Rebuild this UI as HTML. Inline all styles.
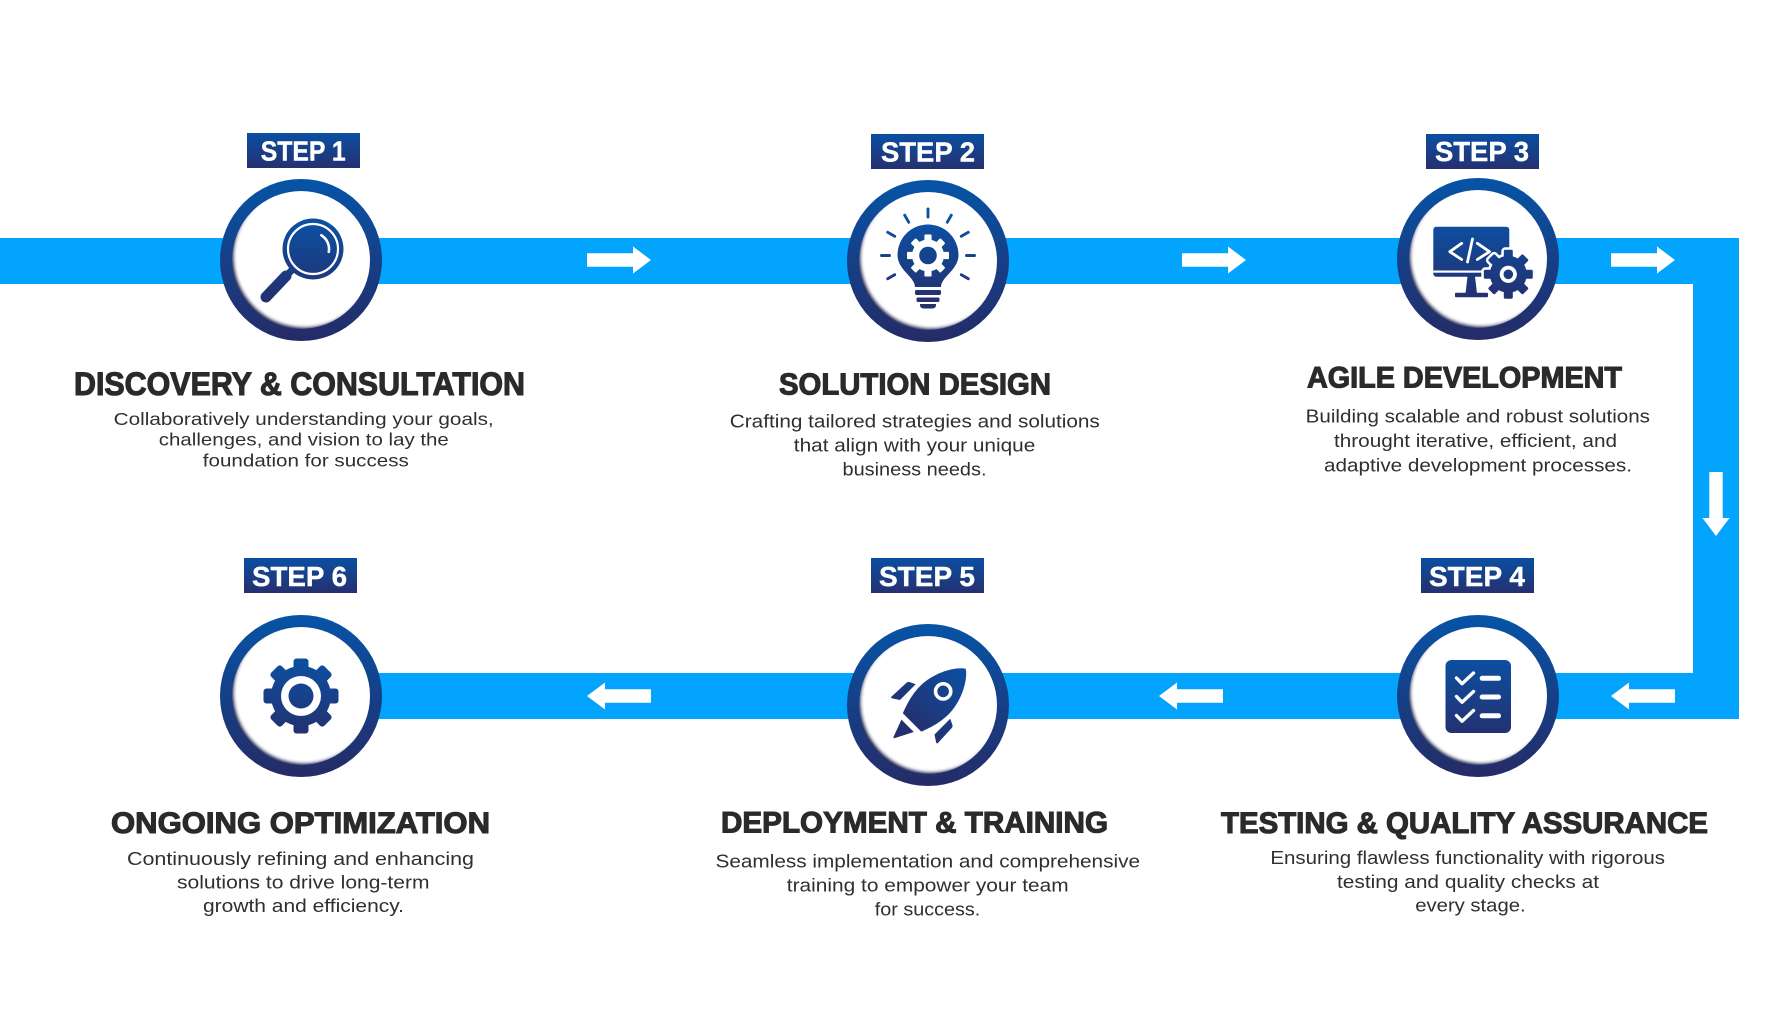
<!DOCTYPE html>
<html><head><meta charset="utf-8"><style>
html,body{margin:0;padding:0;background:#fff;}
svg{display:block;}
.h{font-family:"Liberation Sans",sans-serif;font-weight:bold;fill:#2a2a2a;stroke:#2a2a2a;stroke-width:1.1px;}
.b{font-family:"Liberation Sans",sans-serif;fill:#2f2f2f;font-size:18px;}
.s{font-family:"Liberation Sans",sans-serif;font-weight:bold;fill:#fff;font-size:28px;stroke:#fff;stroke-width:0.4px;}
</style></head><body>
<svg width="1777" height="1036" viewBox="0 0 1777 1036" xmlns="http://www.w3.org/2000/svg" xmlns:xlink="http://www.w3.org/1999/xlink">
<defs>
<linearGradient id="ring" gradientUnits="userSpaceOnUse" x1="0" y1="-81" x2="0" y2="81"><stop offset="0" stop-color="#0654a7"/><stop offset="1" stop-color="#252b67"/></linearGradient>
<linearGradient id="ig" gradientUnits="userSpaceOnUse" x1="0" y1="-42" x2="0" y2="42"><stop offset="0" stop-color="#0a52a5"/><stop offset="1" stop-color="#252f6e"/></linearGradient>
<linearGradient id="sg" x1="0" y1="0" x2="0" y2="1"><stop offset="0" stop-color="#0a4fa1"/><stop offset="1" stop-color="#253070"/></linearGradient>
<clipPath id="inner" clipPathUnits="userSpaceOnUse"><circle r="69"/></clipPath>
<filter id="bl" x="-20%" y="-20%" width="140%" height="140%"><feGaussianBlur stdDeviation="1.8"/></filter>
<g id="badge">
 <circle r="81" fill="url(#ring)"/>
 <g clip-path="url(#inner)">
  <rect x="-70" y="-70" width="140" height="140" fill="#151c48"/>
  <circle cx="3.2" cy="-3.2" r="71" fill="#fff" filter="url(#bl)"/>
 </g>
</g>
<path id="arr" d="M0,-6.7H46V-13.5L64,0L46,13.5V6.7H0Z" fill="#fff"/>
<g id="gear6">
 <circle r="30"/>
 <rect x="-7.5" y="-37.5" width="15" height="14" rx="3"/>
 <rect x="-7.5" y="-37.5" width="15" height="14" rx="3" transform="rotate(45)"/>
 <rect x="-7.5" y="-37.5" width="15" height="14" rx="3" transform="rotate(90)"/>
 <rect x="-7.5" y="-37.5" width="15" height="14" rx="3" transform="rotate(135)"/>
 <rect x="-7.5" y="-37.5" width="15" height="14" rx="3" transform="rotate(180)"/>
 <rect x="-7.5" y="-37.5" width="15" height="14" rx="3" transform="rotate(225)"/>
 <rect x="-7.5" y="-37.5" width="15" height="14" rx="3" transform="rotate(270)"/>
 <rect x="-7.5" y="-37.5" width="15" height="14" rx="3" transform="rotate(315)"/>
</g>
<g id="gear3">
 <circle r="18.5"/>
 <rect x="-4.5" y="-24.5" width="9" height="9" rx="1.5"/>
 <rect x="-4.5" y="-24.5" width="9" height="9" rx="1.5" transform="rotate(45)"/>
 <rect x="-4.5" y="-24.5" width="9" height="9" rx="1.5" transform="rotate(90)"/>
 <rect x="-4.5" y="-24.5" width="9" height="9" rx="1.5" transform="rotate(135)"/>
 <rect x="-4.5" y="-24.5" width="9" height="9" rx="1.5" transform="rotate(180)"/>
 <rect x="-4.5" y="-24.5" width="9" height="9" rx="1.5" transform="rotate(225)"/>
 <rect x="-4.5" y="-24.5" width="9" height="9" rx="1.5" transform="rotate(270)"/>
 <rect x="-4.5" y="-24.5" width="9" height="9" rx="1.5" transform="rotate(315)"/>
</g>
<g id="gear2">
 <circle r="16"/>
 <rect x="-3.6" y="-21" width="7.2" height="7" rx="1"/>
 <rect x="-3.6" y="-21" width="7.2" height="7" rx="1" transform="rotate(45)"/>
 <rect x="-3.6" y="-21" width="7.2" height="7" rx="1" transform="rotate(90)"/>
 <rect x="-3.6" y="-21" width="7.2" height="7" rx="1" transform="rotate(135)"/>
 <rect x="-3.6" y="-21" width="7.2" height="7" rx="1" transform="rotate(180)"/>
 <rect x="-3.6" y="-21" width="7.2" height="7" rx="1" transform="rotate(225)"/>
 <rect x="-3.6" y="-21" width="7.2" height="7" rx="1" transform="rotate(270)"/>
 <rect x="-3.6" y="-21" width="7.2" height="7" rx="1" transform="rotate(315)"/>
</g>
<mask id="m6" maskUnits="userSpaceOnUse" x="-45" y="-45" width="90" height="90"><use xlink:href="#gear6" fill="#fff"/></mask>
<mask id="m3" maskUnits="userSpaceOnUse" x="-60" y="-60" width="120" height="120"><use xlink:href="#gear3" fill="#fff" transform="translate(30.3,15.3)"/></mask>
</defs>

<!-- connector bands -->
<rect x="0" y="238" width="1739" height="46" fill="#02a4fd"/>
<rect x="1693" y="238" width="46" height="481" fill="#02a4fd"/>
<rect x="301" y="673" width="1438" height="46" fill="#02a4fd"/>

<!-- arrows -->
<use xlink:href="#arr" transform="translate(587,260)"/>
<use xlink:href="#arr" transform="translate(1182,260)"/>
<use xlink:href="#arr" transform="translate(1611,260)"/>
<use xlink:href="#arr" transform="translate(1716,472) rotate(90)"/>
<use xlink:href="#arr" transform="translate(1675,696) scale(-1,1)"/>
<use xlink:href="#arr" transform="translate(1223,696) scale(-1,1)"/>
<use xlink:href="#arr" transform="translate(651,696) scale(-1,1)"/>

<!-- badges -->
<use xlink:href="#badge" transform="translate(301,260)"/>
<use xlink:href="#badge" transform="translate(928,261)"/>
<use xlink:href="#badge" transform="translate(1478,259)"/>
<use xlink:href="#badge" transform="translate(1478,696)"/>
<use xlink:href="#badge" transform="translate(928,705)"/>
<use xlink:href="#badge" transform="translate(301,696)"/>

<!-- icon 1: magnifier -->
<g transform="translate(301,260)">
 <circle cx="12" cy="-11" r="30.5" fill="url(#ig)"/>
 <circle cx="12" cy="-11" r="25" fill="none" stroke="#fff" stroke-width="2.2"/>
 <path d="M20.3,-24.7 A16 16 0 0 1 27.8,-8.2" fill="none" stroke="#fff" stroke-width="2.6" stroke-linecap="round"/>
 <line x1="-7" y1="8" x2="-15" y2="16" stroke="url(#ig)" stroke-width="7"/>
 <line x1="-15" y1="16" x2="-35" y2="37" stroke="url(#ig)" stroke-width="11" stroke-linecap="round"/>
</g>

<!-- icon 2: bulb -->
<g transform="translate(928,261)">
 <g stroke="url(#ig)" stroke-width="2.9" stroke-linecap="round">
  <line x1="0" y1="-44" x2="0" y2="-52"/>
  <line x1="19.3" y1="-38.8" x2="23.3" y2="-45.8"/>
  <line x1="-19.3" y1="-38.8" x2="-23.3" y2="-45.8"/>
  <line x1="33.3" y1="-24.7" x2="40.3" y2="-28.7"/>
  <line x1="-33.3" y1="-24.7" x2="-40.3" y2="-28.7"/>
  <line x1="38.5" y1="-5.5" x2="46.5" y2="-5.5"/>
  <line x1="-38.5" y1="-5.5" x2="-46.5" y2="-5.5"/>
  <line x1="33.3" y1="13.7" x2="40.3" y2="17.7"/>
  <line x1="-33.3" y1="13.7" x2="-40.3" y2="17.7"/>
 </g>
 <path d="M-13,26 C-13,16 -30.5,9 -30.5,-6 A30.5 30.5 0 1 1 30.5,-6 C30.5,9 13,16 13,26 Z" fill="url(#ig)"/>
 <rect x="-13" y="29" width="26" height="5" rx="1.5" fill="url(#ig)"/>
 <rect x="-11.5" y="36.5" width="23" height="4.5" rx="1.5" fill="url(#ig)"/>
 <path d="M-8,43 H8 V44 Q8,47.5 4,47.5 H-4 Q-8,47.5 -8,44 Z" fill="url(#ig)"/>
 <use xlink:href="#gear2" fill="#fff" transform="translate(0,-5.5)"/>
 <circle cx="0" cy="-5.5" r="8.8" fill="url(#ig)"/>
</g>

<!-- icon 3: monitor + gear -->
<g transform="translate(1478,259)">
 <rect x="-44.7" y="-32.3" width="76" height="50" rx="3" fill="url(#ig)"/>
 <rect x="-44.7" y="11.5" width="76" height="2.2" fill="#fff"/>
 <path d="M-10.5,17.5 L-3,17.5 L-1,34.5 L-12.5,34.5 Z" fill="url(#ig)"/>
 <rect x="-23" y="33.8" width="33" height="4.5" rx="1" fill="url(#ig)"/>
 <g fill="none" stroke="#fff" stroke-width="2.8" stroke-linecap="round" stroke-linejoin="round">
  <polyline points="-16.3,-15.7 -28.2,-7.3 -16.3,0.5"/>
  <line x1="-5.5" y1="-20" x2="-10.5" y2="3"/>
  <polyline points="-0.7,-15.7 11.5,-7.3 -0.7,0.5"/>
 </g>
 <use xlink:href="#gear3" fill="#fff" stroke="#fff" stroke-width="5" stroke-linejoin="round" transform="translate(30.3,15.3)"/>
 <rect x="-60" y="-60" width="120" height="120" fill="url(#ig)" mask="url(#m3)"/>
 <circle cx="30.3" cy="15.3" r="6.7" fill="none" stroke="#fff" stroke-width="3.8"/>
</g>

<!-- icon 4: checklist -->
<g transform="translate(1478,696)">
 <rect x="-32.5" y="-36" width="65.5" height="73" rx="6" fill="url(#ig)"/>
 <g fill="none" stroke="#fff" stroke-width="3.4" stroke-linecap="round" stroke-linejoin="round">
  <polyline points="-21.5,-18 -16,-12.3 -4.5,-23"/>
  <polyline points="-21.5,0.5 -16,6.2 -4.5,-4.5"/>
  <polyline points="-21.5,19.5 -16,25.2 -4.5,14.5"/>
 </g>
 <g stroke="#fff" stroke-width="5" stroke-linecap="round">
  <line x1="4.2" y1="-17.7" x2="20.5" y2="-17.7"/>
  <line x1="4.2" y1="1" x2="20.5" y2="1"/>
  <line x1="4.2" y1="19.8" x2="20.5" y2="19.8"/>
 </g>
</g>

<!-- icon 5: rocket -->
<g transform="translate(928,705)">
 <g transform="translate(10.9,-9.4) rotate(45)" fill="url(#ig)">
  <path d="M0,-38 C9,-32 19,-14 20,4 C20.5,18 16,30 13,38 L-13,38 C-16,30 -20.5,18 -20,4 C-19,-14 -9,-32 0,-38Z"/>
  <path d="M-24.4,8.4 L-30,11 Q-32,12 -32,14 L-32.8,34 Q-32.8,36 -31,35 L-24.4,30.6 Z"/>
  <path d="M24.4,8.4 L30,11 Q32,12 32,14 L32.8,34 Q32.8,36 31,35 L24.4,30.6 Z"/>
  <path d="M-9.5,43.5 L8,43.5 L-1,61 Q-2,63 -3,61 Z"/>
  <circle cx="0" cy="-6" r="7.6" fill="none" stroke="#fff" stroke-width="3.6"/>
 </g>
</g>

<!-- icon 6: gear -->
<g transform="translate(301,696)">
 <rect x="-45" y="-45" width="90" height="90" fill="url(#ig)" mask="url(#m6)"/>
 <circle r="20" fill="#fff"/>
 <circle r="12.5" fill="url(#ig)"/>
</g>

<!-- step labels -->
<rect x="247" y="133" width="113" height="35" fill="url(#sg)"/>
<text class="s" x="260.7" y="160.7" textLength="85" lengthAdjust="spacingAndGlyphs">STEP 1</text>
<rect x="871" y="134" width="113" height="35" fill="url(#sg)"/>
<text class="s" x="881" y="161.3" textLength="94" lengthAdjust="spacingAndGlyphs">STEP 2</text>
<rect x="1426" y="134" width="113" height="35" fill="url(#sg)"/>
<text class="s" x="1435" y="161" textLength="94" lengthAdjust="spacingAndGlyphs">STEP 3</text>
<rect x="1421" y="558" width="113" height="35" fill="url(#sg)"/>
<text class="s" x="1429" y="586" textLength="96" lengthAdjust="spacingAndGlyphs">STEP 4</text>
<rect x="871" y="558" width="113" height="35" fill="url(#sg)"/>
<text class="s" x="879" y="586" textLength="96" lengthAdjust="spacingAndGlyphs">STEP 5</text>
<rect x="244" y="558" width="113" height="35" fill="url(#sg)"/>
<text class="s" x="252" y="586" textLength="95" lengthAdjust="spacingAndGlyphs">STEP 6</text>

<!-- headings -->
<text class="h" x="74" y="395" font-size="32" textLength="451" lengthAdjust="spacingAndGlyphs">DISCOVERY &amp; CONSULTATION</text>
<text class="h" x="779" y="394.5" font-size="31" textLength="272" lengthAdjust="spacingAndGlyphs">SOLUTION DESIGN</text>
<text class="h" x="1307" y="387.5" font-size="30" textLength="315" lengthAdjust="spacingAndGlyphs">AGILE DEVELOPMENT</text>
<text class="h" x="1221" y="833" font-size="30" textLength="487" lengthAdjust="spacingAndGlyphs">TESTING &amp; QUALITY ASSURANCE</text>
<text class="h" x="721" y="832.5" font-size="30" textLength="387" lengthAdjust="spacingAndGlyphs">DEPLOYMENT &amp; TRAINING</text>
<text class="h" x="111" y="833" font-size="30" textLength="379" lengthAdjust="spacingAndGlyphs">ONGOING OPTIMIZATION</text>

<!-- body text -->
<g class="b">
<text x="113.7" y="425" font-size="17.5" textLength="380" lengthAdjust="spacingAndGlyphs">Collaboratively understanding your goals,</text>
<text x="158.8" y="445.7" font-size="17.5" textLength="290" lengthAdjust="spacingAndGlyphs">challenges, and vision to lay the</text>
<text x="202.8" y="466.5" font-size="17.5" textLength="206" lengthAdjust="spacingAndGlyphs">foundation for success</text>

<text x="729.8" y="427.5" textLength="370" lengthAdjust="spacingAndGlyphs">Crafting tailored strategies and solutions</text>
<text x="793.8" y="451.5" textLength="241.5" lengthAdjust="spacingAndGlyphs">that align with your unique</text>
<text x="842.5" y="475.5" textLength="144" lengthAdjust="spacingAndGlyphs">business needs.</text>

<text x="1305.7" y="422.5" textLength="344.3" lengthAdjust="spacingAndGlyphs">Building scalable and robust solutions</text>
<text x="1334" y="447" textLength="283" lengthAdjust="spacingAndGlyphs">throught iterative, efficient, and</text>
<text x="1324" y="471.5" textLength="308" lengthAdjust="spacingAndGlyphs">adaptive development processes.</text>

<text x="1270.4" y="864" textLength="394.6" lengthAdjust="spacingAndGlyphs">Ensuring flawless functionality with rigorous</text>
<text x="1337" y="888" textLength="262" lengthAdjust="spacingAndGlyphs">testing and quality checks at</text>
<text x="1415.3" y="911.7" textLength="110.3" lengthAdjust="spacingAndGlyphs">every stage.</text>

<text x="715.5" y="867.5" textLength="424.5" lengthAdjust="spacingAndGlyphs">Seamless implementation and comprehensive</text>
<text x="786.8" y="891.5" textLength="281.8" lengthAdjust="spacingAndGlyphs">training to empower your team</text>
<text x="874.8" y="915.5" textLength="105.5" lengthAdjust="spacingAndGlyphs">for success.</text>

<text x="127" y="865" textLength="347" lengthAdjust="spacingAndGlyphs">Continuously refining and enhancing</text>
<text x="177" y="888.5" textLength="252.5" lengthAdjust="spacingAndGlyphs">solutions to drive long-term</text>
<text x="203" y="912" textLength="201" lengthAdjust="spacingAndGlyphs">growth and efficiency.</text>
</g>
</svg>
</body></html>
